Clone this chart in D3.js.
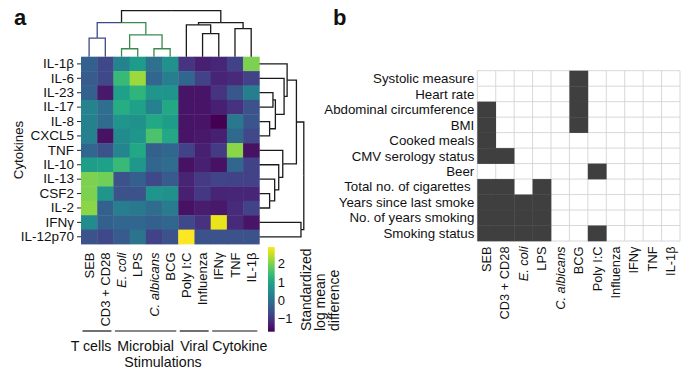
<!DOCTYPE html>
<html><head><meta charset="utf-8">
<script src="https://cdn.jsdelivr.net/npm/d3@7"></script>
<style>
body{margin:0;background:#fff}
text{font-family:"Liberation Sans",Arial,Helvetica,sans-serif;fill:#111}
</style>
</head><body><svg id="c" width="695" height="376"></svg>
<script>
// ---------- data ----------
const stimulations = ["SEB","CD3 + CD28","E. coli","LPS","C. albicans","BCG","Poly I:C","Influenza","IFNγ","TNF","IL-1β"];
const italicStims = ["E. coli","C. albicans"];
const groupNames = ["T cells","Microbial","Viral","Cytokine"];
const groupSizes = [2,4,2,3];
const cytokines = ["IL-1β","IL-6","IL-23","IL-17","IL-8","CXCL5","TNF","IL-10","IL-13","CSF2","IL-2","IFNγ","IL-12p70"];
// standardized log mean difference, one array per cytokine (columns = stimulations)
const vIL1b   = [-0.3,-0.7, 0.35, 0.8, 0.0, 0.6,-1.0,-1.3,-1.2,-0.8, 2.0];
const vIL6    = [-0.4,-0.7, 1.4, 2.2,-0.2, 0.25,-0.2,-0.8,-1.25,-1.15,-0.8];
const vIL23   = [-0.3,-1.4, 0.9, 1.3, 0.7, 0.7,-1.45,-1.45,-1.0,-0.45, 0.25];
const vIL17   = [ 0.35,-0.05,1.15,0.9, 0.3, 1.05,-1.45,-1.45,-1.3,-1.05,-0.55];
const vIL8    = [ 0.3,-0.1, 0.7, 0.6, 1.05,0.85,-1.45,-1.45,-1.7, 0.15,-0.5];
const vCXCL5  = [ 0.3,-1.5, 0.5, 0.7, 1.6, 1.05,-1.45,-1.4,-1.3,-0.15,-0.7];
const vTNF    = [-0.2,-0.55,0.4, 1.05,-0.3,-0.2,-0.8,-1.3,-0.9, 2.1,-1.5];
const vIL10   = [ 0.85,0.9, 1.4, 0.75,-0.2,-0.1,-1.5,-1.3,-1.5,-0.2,-0.8];
const vIL13   = [ 2.0, 1.9,-0.55,-0.3,-0.7,-0.4,-1.25,-0.9,-0.75,-0.8,-0.8];
const vCSF2   = [ 2.0, 0.7,-0.55,-0.55,0.7, 0.6,-1.3,-0.95,-1.25,-1.2,-1.2];
const vIL2    = [ 2.1,-0.3, 0.25, 0.15,-0.1,0.2,-1.5,-1.35,-1.4,-1.15,-0.8];
const vIFNg   = [ 0.5,-0.3,-0.2,-0.2,-0.3,-0.2,-0.7,-1.05, 2.75,-1.15,-1.45];
const vIL12p70= [-0.55,-0.7,-0.4, 0.05,-0.8,-0.55, 2.9,-0.55,-0.55,-0.55,-0.55];
const heatValues = [vIL1b,vIL6,vIL23,vIL17,vIL8,vCXCL5,vTNF,vIL10,vIL13,vCSF2,vIL2,vIFNg,vIL12p70];
const colorDomain = [-1.7, 2.9];
const colorbarTicks = [-1,0,1,2];
const colorbarTitle = ["Standardized","log mean","difference"];

// column dendrogram (hclust-style merges: negative = leaf (1-based), positive = earlier merge)
const colMerges  = [[-1,-2],[-3,-4],[-5,-6],[2,3],[1,4],[-8,-9],[-7,6],[-10,-11],[7,8],[5,9]];
const colHeights = [18.7, 8, 8, 22, 34.3, 23.3, 32, 28.3, 34.3, 46.3];
const colLeafCluster = [1,1,2,2,2,2,0,0,0,0,0];
// row dendrogram
const rowMerges  = [[-5,-6],[-3,-4],[2,1],[-2,3],[-1,4],[-10,-11],[-9,6],[-8,7],[-7,8],[5,9],[-12,-13],[10,11]];
const rowHeights = [10, 13.3, 15.7, 24.3, 27.3, 10, 15, 19, 23, 36.5, 41, 43.8];

// panel b
const traits = ["Systolic measure","Heart rate","Abdominal circumference","BMI","Cooked meals","CMV serology status","Beer","Total no. of cigarettes ","Years since last smoke","No. of years smoking","Smoking status"];
const sigSystolic  = [0,0,0,0,0,1,0,0,0,0,0];
const sigHeartRate = [0,0,0,0,0,1,0,0,0,0,0];
const sigAbdominal = [1,0,0,0,0,1,0,0,0,0,0];
const sigBMI       = [1,0,0,0,0,1,0,0,0,0,0];
const sigCooked    = [1,0,0,0,0,0,0,0,0,0,0];
const sigCMV       = [1,1,0,0,0,0,0,0,0,0,0];
const sigBeer      = [0,0,0,0,0,0,1,0,0,0,0];
const sigTotalCig  = [1,1,0,1,0,0,0,0,0,0,0];
const sigYearsSince= [1,1,1,1,0,0,0,0,0,0,0];
const sigYearsSmok = [1,1,1,1,0,0,0,0,0,0,0];
const sigSmokStat  = [1,1,1,1,0,0,1,0,0,0,0];
const sigMatrix = [sigSystolic,sigHeartRate,sigAbdominal,sigBMI,sigCooked,sigCMV,sigBeer,sigTotalCig,sigYearsSince,sigYearsSmok,sigSmokStat];

// ---------- drawing ----------
const svg = d3.select("#c");
const F = "'Liberation Sans',Arial,Helvetica,sans-serif";

svg.append("text").attr("x",14).attr("y",25).attr("font-size",22).attr("font-weight","bold").text("a");
svg.append("text").attr("x",333).attr("y",25).attr("font-size",22).attr("font-weight","bold").text("b");

// heatmap
const x = d3.scaleBand().domain(stimulations).range([81,259.3]);
const y = d3.scaleBand().domain(cytokines).range([56.7,244]);
const color = d3.scaleSequential(d3.interpolateViridis).domain(colorDomain);
const cells = [];
heatValues.forEach((row,i)=>row.forEach((v,j)=>cells.push({r:cytokines[i],c:stimulations[j],v})));
svg.append("g").selectAll("rect").data(cells).join("rect")
  .attr("x",d=>x(d.c)).attr("y",d=>y(d.r))
  .attr("width",x.bandwidth()+0.4).attr("height",y.bandwidth()+0.4)
  .attr("fill",d=>color(d.v));

// left axis
const ax = svg.append("g").attr("transform","translate(81,0)")
  .call(d3.axisLeft(y).tickSize(4).tickPadding(3));
ax.select(".domain").remove();
ax.selectAll("line").attr("stroke","#222");
ax.selectAll("text").attr("font-size",13.5).attr("font-family",F).attr("fill","#111");

svg.append("text").attr("transform","translate(23,150) rotate(-90)")
  .attr("text-anchor","middle").attr("font-size",13.3).text("Cytokines");

// bottom rotated labels a
svg.append("g").selectAll("text").data(stimulations).join("text")
  .attr("transform",d=>`translate(${x(d)+x.bandwidth()/2},252.5) rotate(-90)`)
  .attr("dy","0.35em").attr("text-anchor","end").attr("font-size",13)
  .attr("font-style",d=>italicStims.includes(d)?"italic":"normal")
  .text(d=>d);

// groups
let start=0;
groupNames.forEach((gname,i)=>{
  const s=stimulations[start], e=stimulations[start+groupSizes[i]-1];
  const x0=x(s)+1.5, x1=x(e)+x.bandwidth()-2;
  svg.append("line").attr("x1",x0).attr("x2",x1).attr("y1",331).attr("y2",331).attr("stroke","#111").attr("stroke-width",1.2);
  const first = i===0, last = i===groupNames.length-1;
  svg.append("text").attr("x",first?x1:(last?x0:(x0+x1)/2)).attr("y",351)
    .attr("text-anchor",first?"end":(last?"start":"middle")).attr("font-size",14.2).text(gname);
  start+=groupSizes[i];
});
svg.append("text").attr("x",163).attr("y",366.5).attr("text-anchor","middle").attr("font-size",14.2).text("Stimulations");

// dendrograms
function buildNodes(merges, heights, leafPos){
  const leaves = leafPos.map(p=>({pos:p,h:0}));
  const nodes=[];
  const get = id => id<0 ? leaves[-id-1] : nodes[id-1];
  merges.forEach((m,k)=>{
    const a=get(m[0]), b=get(m[1]);
    nodes.push({pos:(a.pos+b.pos)/2,h:heights[k],kids:[a,b]});
  });
  return {leaves,nodes};
}
const clusterColors = ["#1a1a1a","#3d4a8a","#3a8a4e"];
// column dendro
{
  const leafPos = stimulations.map(s=>x(s)+x.bandwidth()/2);
  const {leaves,nodes} = buildNodes(colMerges,colHeights,leafPos);
  leaves.forEach((l,i)=>l.cl=colLeafCluster[i]);
  nodes.forEach(n=>{n.cl = (n.kids[0].cl===n.kids[1].cl)?n.kids[0].cl:0;});
  const hy = d3.scaleLinear().domain([0,d3.max(colHeights)]).range([56.7,10.7]);
  const g = svg.append("g").attr("fill","none").attr("stroke-width",1.3);
  nodes.forEach(n=>n.kids.forEach(c=>{
    g.append("path").attr("d",`M${n.pos},${hy(n.h)}H${c.pos}V${hy(c.h)}`)
      .attr("stroke",clusterColors[c.cl]);
  }));
}
// row dendro
{
  const leafPos = cytokines.map(s=>y(s)+y.bandwidth()/2);
  const {nodes} = buildNodes(rowMerges,rowHeights,leafPos);
  const hx = d3.scaleLinear().domain([0,d3.max(rowHeights)]).range([259.5,303.8]);
  const g = svg.append("g").attr("fill","none").attr("stroke-width",1.3).attr("stroke","#1a1a1a");
  nodes.forEach(n=>n.kids.forEach(c=>{
    g.append("path").attr("d",`M${hx(n.h)},${n.pos}V${c.pos}H${hx(c.h)}`);
  }));
}

// colorbar
{
  const cb = d3.scaleLinear().domain(colorDomain).range([331.7,247]);
  const defs = svg.append("defs");
  const lg = defs.append("linearGradient").attr("id","vg").attr("x1",0).attr("y1",1).attr("x2",0).attr("y2",0);
  d3.range(0,1.0001,0.05).forEach(t=>lg.append("stop").attr("offset",t).attr("stop-color",d3.interpolateViridis(t)));
  svg.append("rect").attr("x",268).attr("y",247).attr("width",6.7).attr("height",84.7).attr("fill","url(#vg)");
  const a = svg.append("g").attr("transform","translate(274.7,0)")
    .call(d3.axisRight(cb).tickValues(colorbarTicks).tickSize(0).tickPadding(3).tickFormat(d3.format("d")));
  a.select(".domain").remove();
  a.selectAll("text").attr("font-size",13).attr("font-family",F).attr("fill","#111");
  colorbarTitle.forEach((t,i)=>{
    svg.append("text").attr("transform",`translate(${310.5+i*14},331) rotate(-90)`)
      .attr("font-size",14).text(t);
  });
}

// panel b
{
  const xb = d3.scaleBand().domain(stimulations).range([477.3,680]);
  const yb = d3.scaleBand().domain(traits).range([70.7,241]);
  const cellsB=[];
  sigMatrix.forEach((row,i)=>row.forEach((v,j)=>{ if(v) cellsB.push({r:traits[i],c:stimulations[j]}); }));
  const gl = svg.append("g").attr("stroke","#d4d4d4").attr("stroke-width",0.9);
  stimulations.forEach((s,j)=>{
    gl.append("line").attr("x1",xb(s)).attr("x2",xb(s)).attr("y1",70.7).attr("y2",241);
  });
  gl.append("line").attr("x1",680).attr("x2",680).attr("y1",70.7).attr("y2",241);
  traits.forEach(t=>{
    gl.append("line").attr("x1",477.3).attr("x2",680).attr("y1",yb(t)).attr("y2",yb(t));
  });
  gl.append("line").attr("x1",477.3).attr("x2",680).attr("y1",241).attr("y2",241);
  svg.append("g").selectAll("rect").data(cellsB).join("rect")
    .attr("x",d=>xb(d.c)).attr("y",d=>yb(d.r))
    .attr("width",xb.bandwidth()+0.3).attr("height",yb.bandwidth()+0.3).attr("fill","#3f3f3f");
  svg.append("g").selectAll("text").data(traits).join("text")
    .attr("x",474.3).attr("y",d=>yb(d)+yb.bandwidth()/2).attr("dy","0.35em")
    .attr("text-anchor","end").attr("font-size",13.3).style("white-space","pre").text(d=>d);
  svg.append("g").selectAll("text").data(stimulations).join("text")
    .attr("transform",d=>`translate(${xb(d)+xb.bandwidth()/2},246.5) rotate(-90)`)
    .attr("dy","0.35em").attr("text-anchor","end").attr("font-size",12.8)
    .attr("font-style",d=>italicStims.includes(d)?"italic":"normal")
    .text(d=>d);
}
</script></body></html>
